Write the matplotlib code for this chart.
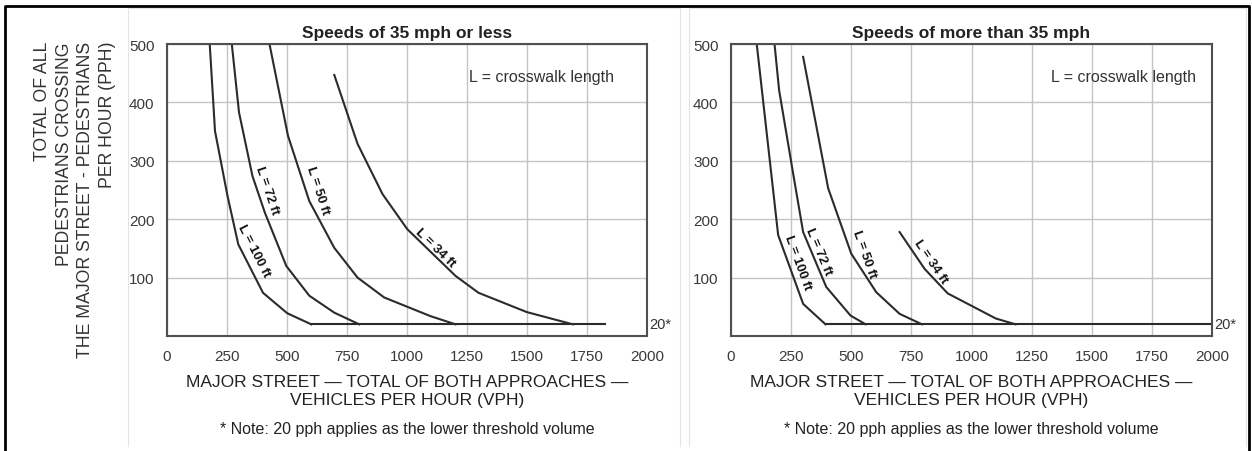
import numpy as np
import matplotlib.pyplot as plt
from matplotlib.lines import Line2D

# left panel: speeds of 35 mph or less
low_100_x = [178, 200, 252, 297, 400, 501, 601]
low_100_y = [500, 351, 240, 157, 74, 39, 20]
low_72_x = [270, 300, 356, 408, 497, 593, 697, 801]
low_72_y = [500, 383, 274, 211, 120, 69, 40, 20]
low_50_x = [427, 504, 593, 697, 794, 905, 1098, 1202]
low_50_y = [500, 343, 231, 151, 100, 66, 34, 20]
low_34_x = [697, 794, 898, 1001, 1202, 1298, 1499, 1691]
low_34_y = [447, 329, 243, 183, 103, 74, 41, 20]
low_floor_x = [601, 1825]

# right panel: speeds of more than 35 mph
high_100_x = [107, 196, 300, 393]
high_100_y = [500, 173, 55, 20]
high_72_x = [181, 200, 263, 300, 396, 497, 560]
high_72_y = [500, 421, 267, 178, 84, 35, 20]
high_50_x = [300, 404, 500, 604, 701, 794]
high_50_y = [478, 253, 141, 75, 38, 20]
high_34_x = [701, 805, 901, 1101, 1183]
high_34_y = [178, 115, 73, 30, 20]
high_floor_x = [393, 2000]

floor = 20

curve_names = ["L = 100 ft", "L = 72 ft", "L = 50 ft", "L = 34 ft"]
low_label_x = [360, 418, 627, 1116]
low_label_y = [147, 250, 250, 152]
high_label_x = [276, 365, 552, 829]
high_label_y = [127, 146, 142, 128]

xlabel = "MAJOR STREET \u2014 TOTAL OF BOTH APPROACHES \u2014\nVEHICLES PER HOUR (VPH)"
note = "* Note: 20 pph applies as the lower threshold volume"
ylabel = "TOTAL OF ALL\nPEDESTRIANS CROSSING\nTHE MAJOR STREET - PEDESTRIANS\nPER HOUR (PPH)"

plt.rcParams['font.family'] = ['Liberation Sans', 'DejaVu Sans']

fig = plt.figure(figsize=(12.52, 4.52), dpi=100)
ax1 = fig.add_axes([167 / 1252, 0.2544, 480 / 1252, 0.646])
ax2 = fig.add_axes([731 / 1252, 0.2544, 481 / 1252, 0.646])

lc = '#2b2b2b'


def slope_angle(ax, xs, ys, y0):
    # rotation of the curve near y0, measured on screen
    pts = ax.transData.transform(np.column_stack([xs, ys]))
    ys = np.asarray(ys)
    i = int(np.clip(np.searchsorted(-ys, -y0) - 1, 0, len(ys) - 2))
    dx, dy = pts[i + 1] - pts[i]
    return np.degrees(np.arctan2(dy, dx))


def draw_panel(ax, curves, floor_x, lab_x, lab_y, title, box_x):
    ax.set_xlim(0, 2000)
    ax.set_ylim(0, 500)
    for xs, ys in curves:
        ax.plot(xs, ys, color=lc, lw=1.5)
    ax.plot(floor_x, [floor, floor], color=lc, lw=1.5)
    for (xs, ys), name, x, y in zip(curves, curve_names, lab_x, lab_y):
        rot = slope_angle(ax, xs, ys, y)
        ax.text(x, y, name, rotation=rot, fontsize=9.5, fontweight='bold',
                ha='center', va='center', color='#111111', rotation_mode='anchor')
    ax.text(2000 + 10, floor, "20*", fontsize=10.5, color='#333333', ha='left', va='center',
            clip_on=False)
    ax.text(box_x, 0.89, "L = crosswalk length", transform=ax.transAxes, fontsize=11.5,
            ha='center', va='center', color='#333333')
    ax.set_xticks(range(0, 2001, 250))
    ax.set_yticks([100, 200, 300, 400, 500])
    ax.grid(True, color='#c4c4c4', lw=1.0)
    ax.set_axisbelow(True)
    for s in ax.spines.values():
        s.set_color('#505050')
        s.set_linewidth(1.5)
    ax.tick_params(length=0, labelsize=11, labelcolor='#3a3a3a', pad=9)
    ax.set_title(title, fontsize=12.5, fontweight='bold', color='#222222', pad=5)
    ax.set_xlabel(xlabel, fontsize=12.5, color='#222222', labelpad=8, linespacing=1.3)
    ax.text(0.5, -0.29, note, transform=ax.transAxes, fontsize=11.5, color='#222222',
            ha='center', va='top')


draw_panel(ax1, [(low_100_x, low_100_y), (low_72_x, low_72_y), (low_50_x, low_50_y),
                 (low_34_x, low_34_y)], low_floor_x, low_label_x, low_label_y,
           "Speeds of 35 mph or less", 0.78)
draw_panel(ax2, [(high_100_x, high_100_y), (high_72_x, high_72_y), (high_50_x, high_50_y),
                 (high_34_x, high_34_y)], high_floor_x, high_label_x, high_label_y,
           "Speeds of more than 35 mph", 0.815)

fig.text(75 / 1252, 1 - 42 / 452, ylabel, rotation=90, ha='center', va='top',
         multialignment='right', fontsize=12.7, color='#333333', linespacing=1.38)

# faint panel boxes and outer frame
for x0, x1 in [(128 / 1252, 680 / 1252), (689 / 1252, 1246 / 1252)]:
    fig.add_artist(Line2D([x0, x0, x1, x1], [0.012, 0.98, 0.98, 0.012],
                          color='#e4e4e4', lw=0.8))
fig.add_artist(Line2D([5 / 1252, 5 / 1252, 1249 / 1252, 1249 / 1252],
                      [0.0, 1 - 7 / 452, 1 - 7 / 452, 0.0], color='black', lw=2))

fig.savefig('out.png', dpi=100)
